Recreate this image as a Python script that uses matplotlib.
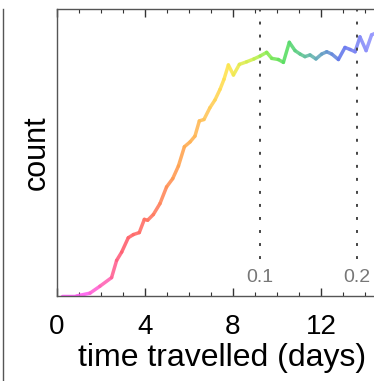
#!/usr/bin/env python3
"""count vs. time travelled, rainbow-coloured line."""

import numpy as np
import matplotlib
matplotlib.use("Agg")
import matplotlib.pyplot as plt
from matplotlib.collections import LineCollection
from matplotlib.colors import LinearSegmentedColormap
from matplotlib.lines import Line2D

plt.rcParams["font.family"] = ["Liberation Sans", "DejaVu Sans"]

# data (count in arbitrary units, 0..100)
days = [0.21, 0.89, 1.5, 1.95, 2.48, 2.71, 2.94, 3.24, 3.47, 3.74, 3.97, 4.12,
        4.38, 4.68, 4.98, 5.26, 5.52, 5.79, 6.05, 6.27, 6.47, 6.68, 6.95, 7.18,
        7.41, 7.59, 7.79, 8.02, 8.29, 8.62, 8.95, 9.23, 9.53, 9.76, 10.06, 10.29,
        10.56, 10.82, 11.05, 11.27, 11.5, 11.77, 12.03, 12.26, 12.49, 12.79,
        13.09, 13.32, 13.55, 13.77, 14.05, 14.3, 14.45]
count = [0, 0, 1.0, 3.4, 6.4, 12.4, 15.3, 20.3, 21.4, 22.1, 26.7, 26.4,
         28.4, 32.2, 38.0, 40.9, 45.3, 52.0, 53.7, 55.7, 61.0, 61.5, 65.6, 68.3,
         72.0, 75.5, 80.5, 77.0, 80.7, 81.6, 82.6, 83.6, 84.9, 82.8, 82.4, 81.4,
         88.4, 85.5, 84.3, 83.4, 84.0, 82.6, 84.3, 85.1, 84.3, 82.4,
         86.6, 85.9, 85.1, 90.3, 85.5, 91.0, 91.5]
marker_days = [9.23, 13.62]
marker_labels = ["0.1", "0.2"]
xticks = [0, 4, 8, 12]

x_max = 15.0
anchors = [(0.0, "#ff55ff"), (1.2, "#ff5ef0"), (2.0, "#ff66c4"), (3.0, "#ff6070"),
           (4.5, "#ff7c60"), (5.5, "#ffa050"), (6.8, "#ffc55a"), (7.8, "#ffe650"),
           (9.0, "#c8f050"), (9.6, "#88ec55"), (10.5, "#55dd66"), (11.5, "#66bba8"),
           (12.3, "#6699cc"), (13.0, "#6677ee"), (14.5, "#9a9aff"), (15.0, "#a0a0ff")]
cmap = LinearSegmentedColormap.from_list(
    "trip", [(d / x_max, c) for d, c in anchors])

fig = plt.figure(figsize=(3.74, 3.81), dpi=100)
ax = fig.add_axes([57 / 374, 85 / 381, 330 / 374, 287 / 381])

pts = np.column_stack([days, count])
segs = np.stack([pts[:-1], pts[1:]], axis=1)
mid = (np.array(days[:-1]) + np.array(days[1:])) / 2
lc = LineCollection(segs, colors=cmap(mid / x_max), linewidth=2.5,
                    capstyle="round", joinstyle="round", alpha=0.9)
ax.add_collection(lc)

for d, lab in zip(marker_days, marker_labels):
    ax.vlines(d, 13, 100, colors="#444444", linestyles=(0, (1.5, 5.2)), lw=1.4)
    ax.text(d, 6.3, lab, ha="center", va="center", fontsize=14, color="#777777")

ax.set_xlim(0, x_max)
ax.set_ylim(0, 100)
ax.set_xticks(xticks)
ax.set_xticks(np.arange(0, 16, 1), minor=True)
ax.set_yticks([])
ax.tick_params(axis="x", which="both", direction="in", top=True,
               colors="#333333", labelcolor="black", labelsize=20, pad=13)
ax.tick_params(axis="x", which="major", length=6, width=1)
ax.tick_params(axis="x", which="minor", length=3, width=0.8)
for s in ax.spines.values():
    s.set_color("#555555")
    s.set_linewidth(1.0)

ax.set_xlabel("time travelled (days)", fontsize=23, labelpad=2)
ax.set_ylabel("count", fontsize=22, labelpad=4)

# edge of the neighbouring panel
fig.add_artist(Line2D([3 / 374, 3 / 374], [0, 372 / 381],
                      transform=fig.transFigure, color="#555555", lw=1.0))

fig.savefig("out.png", dpi=100)
